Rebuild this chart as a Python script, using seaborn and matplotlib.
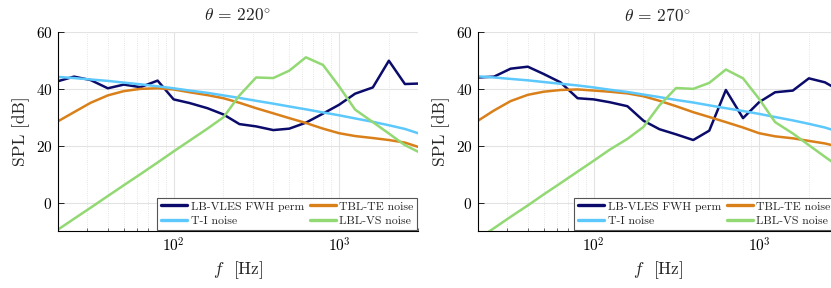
import numpy as np
import pandas as pd
import matplotlib
matplotlib.use("Agg")
import matplotlib.pyplot as plt
import seaborn as sns
from matplotlib.ticker import LogLocator, FixedLocator, NullFormatter

freq = [20, 25, 31.5, 40, 50, 63, 80, 100, 125, 160, 200, 250, 315, 400,
        500, 630, 800, 1000, 1250, 1600, 2000, 2500, 3150]

titles = [r"$\theta \,=\, 220^{\circ}$", r"$\theta \,=\, 270^{\circ}$"]
series_names = ["LB-VLES FWH perm", "TBL-TE noise", "T-I noise", "LBL-VS noise"]

# theta = 220
vles_220 = [42.7, 44.3, 43.1, 40.2, 41.5, 40.6, 42.9, 36.3, 35.0, 33.2, 31.0, 27.6,
            26.8, 25.5, 26.0, 28.1, 31.3, 34.4, 38.3, 40.5, 49.9, 41.7, 41.9]
tblte_220 = [28.6, 31.8, 35.1, 37.7, 39.2, 40.0, 40.2, 39.8, 38.8, 37.8, 36.7, 35.1,
             33.2, 31.4, 29.7, 28.0, 26.0, 24.4, 23.4, 22.7, 22.0, 21.1, 19.2]
ti_220 = [44.2, 43.8, 43.3, 42.8, 42.2, 41.6, 40.9, 40.2, 39.4, 38.6, 37.7, 36.8,
          35.8, 34.8, 33.8, 32.8, 31.7, 30.7, 29.6, 28.4, 27.2, 25.9, 24.0]
lblvs_220 = [-9.5, -5.7, -1.8, 2.3, 6.1, 10.0, 14.1, 18.0, 21.8, 26.0, 30.0, 37.7,
             44.0, 43.8, 46.4, 51.1, 48.4, 40.9, 32.7, 28.3, 24.3, 20.2, 17.3]

# theta = 270
vles_270 = [44.0, 44.3, 47.1, 47.8, 45.2, 42.3, 36.7, 36.3, 35.3, 33.9, 28.8, 25.8,
            24.0, 22.0, 25.3, 39.6, 29.7, 35.3, 38.8, 39.4, 43.7, 42.3, 39.0]
tblte_270 = [28.8, 32.4, 35.7, 37.9, 39.0, 39.6, 39.8, 39.4, 39.0, 38.4, 37.4, 35.8,
             33.9, 31.8, 30.1, 28.3, 26.4, 24.4, 23.3, 22.6, 21.7, 20.8, 19.4]
ti_270 = [44.4, 44.0, 43.5, 43.0, 42.4, 41.8, 41.2, 40.5, 39.7, 38.9, 38.0, 37.1,
          36.1, 35.2, 34.2, 33.2, 32.2, 31.2, 30.1, 28.9, 27.7, 26.4, 24.6]
lblvs_270 = [-12.8, -9.0, -5.0, -1.0, 2.9, 6.8, 10.9, 14.7, 18.6, 22.4, 26.6, 34.2,
             40.3, 40.0, 42.1, 46.8, 43.7, 36.5, 28.3, 24.3, 20.2, 16.1, 12.0]

panels = [
    [vles_220, tblte_220, ti_220, lblvs_220],
    [vles_270, tblte_270, ti_270, lblvs_270],
]

colors = {
    "LB-VLES FWH perm": "#0b0b6b",
    "TBL-TE noise": "#d9801a",
    "T-I noise": "#5cc8fb",
    "LBL-VS noise": "#92d974",
}

sns.set_style("white")
plt.rcParams["font.family"] = ["cmr10", "DejaVu Serif"]
plt.rcParams["mathtext.fontset"] = "cm"
plt.rcParams["axes.unicode_minus"] = False
plt.rcParams["axes.formatter.use_mathtext"] = True

W, H = 831, 288
fig = plt.figure(figsize=(W / 100, H / 100), dpi=100)

ax_px = [(58, 32, 360, 199), (478, 32, 360, 199)]
# legend right edge (figure pixels) for each panel
leg_right = [417, 834]

for i, (data, title) in enumerate(zip(panels, titles)):
    x0, y0, w, h = ax_px[i]
    ax = fig.add_axes([x0 / W, 1 - (y0 + h) / H, w / W, h / H])
    rows = []
    for name, vals in zip(series_names, data):
        for f, v in zip(freq, vals):
            rows.append({"f": f, "SPL": v, "series": name})
    df = pd.DataFrame(rows)
    sns.lineplot(data=df, x="f", y="SPL", hue="series", hue_order=series_names,
                 palette=colors, linewidth=1.8, ax=ax, legend=False)
    ax.set_xscale("log")
    ax.set_xlim(20, 3000)
    ax.set_ylim(-10, 60)
    ax.yaxis.set_major_locator(FixedLocator([0, 20, 40, 60]))
    ax.xaxis.set_major_locator(LogLocator(base=10, numticks=10))
    ax.xaxis.set_minor_locator(LogLocator(base=10, subs=np.arange(2, 10), numticks=20))
    ax.xaxis.set_minor_formatter(NullFormatter())
    ax.grid(True, which="major", color="#e3e3e3", linewidth=0.8)
    ax.grid(True, which="minor", axis="x", color="#dedede", linewidth=0.6, linestyle=":")
    for s in ["top", "right"]:
        ax.spines[s].set_visible(False)
    for s in ["left", "bottom"]:
        ax.spines[s].set_color("black")
        ax.spines[s].set_linewidth(0.8)
    ax.tick_params(axis="both", which="major", direction="in", length=4, width=0.6,
                   labelsize=11, colors="black", left=True, bottom=True, pad=4)
    ax.tick_params(axis="x", which="minor", direction="in", length=2, width=0.5,
                   bottom=True)
    ax.set_title(title, fontsize=12.5, pad=8)
    ax.set_xlabel(r"$f$  [Hz]", fontsize=12.5, labelpad=3)
    ax.set_ylabel("SPL [dB]", fontsize=12.5, labelpad=4)

    order = ["LB-VLES FWH perm", "T-I noise", "TBL-TE noise", "LBL-VS noise"]
    handles = [plt.Line2D([], [], color=colors[n], linewidth=2.4) for n in order]
    anchor = (leg_right[i] / W, 1 - (y0 + h - 1.5) / H)
    leg = ax.legend(handles, order, ncol=2, loc="lower right",
                    bbox_to_anchor=anchor, bbox_transform=fig.transFigure,
                    fontsize=8.5, frameon=True, fancybox=False,
                    edgecolor="#555555", framealpha=1, borderpad=0.3,
                    handlelength=2.2, handletextpad=0.3, columnspacing=0.5,
                    labelspacing=0.35, borderaxespad=0.0)
    leg.get_frame().set_linewidth(0.8)

fig.savefig("out.png", dpi=100)
